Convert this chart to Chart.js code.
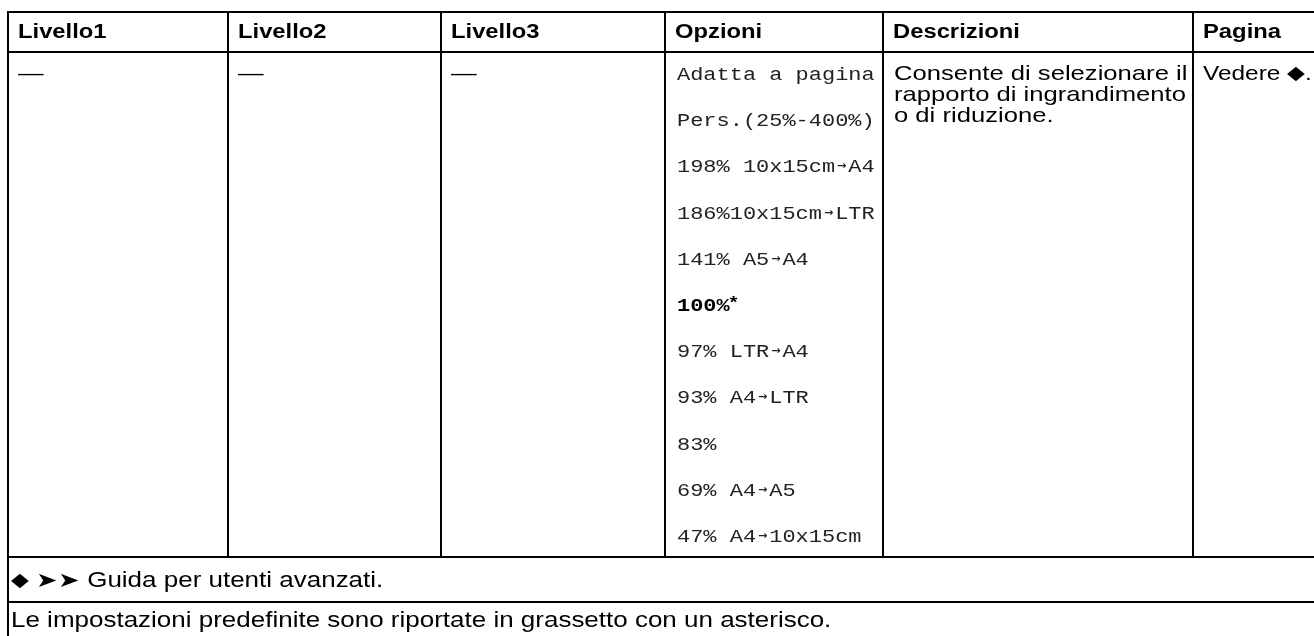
<!DOCTYPE html>
<html>
<head>
<meta charset="utf-8">
<script src="https://cdn.jsdelivr.net/npm/chart.js@4"></script>
<style>
  html, body { margin: 0; padding: 0; background: #fff; }
  canvas { display: block; }
</style>
</head>
<body>
<canvas id="table" width="1314" height="636"></canvas>
<script>
// Table content
const headers = ['Livello1', 'Livello2', 'Livello3', 'Opzioni', 'Descrizioni', 'Pagina'];
const livelli = ['—', '—', '—'];
const opzioni = [
    'Adatta a pagina',
    'Pers.(25%-400%)',
    '198% 10x15cm→A4',
    '186%10x15cm→LTR',
    '141% A5→A4',
    '100%',
    '97% LTR→A4',
    '93% A4→LTR',
    '83%',
    '69% A4→A5',
    '47% A4→10x15cm'
];
const predefinita = '100%';   // shown in bold with an asterisk
const descrizione = ['Consente di selezionare il', 'rapporto di ingrandimento', 'o di riduzione.'];
const pagina = 'Vedere ◆.';
const note = [
    '◆ ➤➤ Guida per utenti avanzati.',
    'Le impostazioni predefinite sono riportate in grassetto con un asterisco.'
];

// the picture is a bit wider than tall, so text gets stretched horizontally
const SX = 1.22;
const colX = [8, 228, 441, 665, 883, 1193];
const FONT_HEAD = 'bold 19.5px "Liberation Sans"';
const FONT_BODY = '21px "Liberation Sans"';
const FONT_NOTE = '21.3px "Liberation Sans"';
const FONT_MONO = '18px "Liberation Mono"';
const FONT_MONO_B = 'bold 18px "Liberation Mono"';
const FONT_ARROW = 'bold 11px "DejaVu Sans"';
const FONT_DIAMOND = '19px "DejaVu Sans"';

function drawText(ctx, s, x, y, font, color) {
    ctx.save();
    ctx.font = font;
    ctx.fillStyle = color || '#000';
    ctx.textBaseline = 'alphabetic';
    ctx.translate(x, y);
    ctx.scale(SX, 1);
    ctx.fillText(s, 0, 0);
    const w = ctx.measureText(s).width * SX;
    ctx.restore();
    return w;
}

// monospace text, the arrows are drawn smaller and centred in their cell
function drawMono(ctx, s, x, y, font, color) {
    ctx.save();
    ctx.font = font;
    const cw = ctx.measureText('M').width * SX;
    ctx.restore();
    const parts = s.split('→');
    let cx = x;
    parts.forEach((p, i) => {
        if (p) drawText(ctx, p, cx, y, font, color);
        cx += p.length * cw;
        if (i < parts.length - 1) {
            ctx.save();
            ctx.font = FONT_ARROW;
            ctx.fillStyle = color;
            ctx.textAlign = 'center';
            ctx.fillText('→', cx + cw / 2, y - 3);
            ctx.restore();
            cx += cw;
        }
    });
    return cx - x;
}

// body text where the diamond sign comes from another font
function drawWithDiamond(ctx, s, x, y, font) {
    const parts = s.split('◆');
    let cx = x;
    parts.forEach((p, i) => {
        if (p) cx += drawText(ctx, p, cx, y, font);
        if (i < parts.length - 1) {
            cx += drawText(ctx, '◆', cx, y - 1, FONT_DIAMOND);
        }
    });
}

function line(ctx, x1, y1, x2, y2) {
    ctx.beginPath();
    ctx.moveTo(x1, y1);
    ctx.lineTo(x2, y2);
    ctx.stroke();
}

const tablePlugin = {
    id: 'tablePlugin',
    beforeDraw(chart) {
        const ctx = chart.ctx;
        ctx.save();
        ctx.fillStyle = '#fff';
        ctx.fillRect(0, 0, chart.width, chart.height);
        ctx.restore();
    },
    afterDraw(chart) {
        const ctx = chart.ctx;
        const yScale = chart.scales.y;
        const W = chart.width;

        // grid
        ctx.save();
        ctx.strokeStyle = '#000';
        ctx.lineWidth = 2;
        line(ctx, colX[0], 12, W, 12);
        line(ctx, colX[0], 52, W, 52);
        line(ctx, colX[0], 557, W, 557);
        line(ctx, colX[0], 602, W, 602);
        line(ctx, colX[0], 11, colX[0], chart.height);
        for (let i = 1; i < colX.length; i++) {
            line(ctx, colX[i], 11, colX[i], 557);
        }
        ctx.restore();

        // header row
        headers.forEach((h, i) => drawText(ctx, h, colX[i] + 10, 38, FONT_HEAD));

        // level columns
        livelli.forEach((l, i) => drawText(ctx, l, colX[i] + 10, 80, FONT_BODY));

        // options, one per category row
        opzioni.forEach((o, i) => {
            const y = yScale.getPixelForValue(i);
            if (o === predefinita) {
                const w = drawMono(ctx, o, colX[3] + 12, y, FONT_MONO_B, '#000');
                drawText(ctx, '*', colX[3] + 12 + w, y - 3, 'bold 16px "Liberation Sans"');
            } else {
                drawMono(ctx, o, colX[3] + 12, y, FONT_MONO, '#222');
            }
        });

        // description
        descrizione.forEach((d, i) => drawText(ctx, d, colX[4] + 11, 80 + i * 21, FONT_BODY));

        // page reference
        drawWithDiamond(ctx, pagina, colX[5] + 10, 80, '20px "Liberation Sans"');

        // footnotes
        drawWithDiamond(ctx, note[0], colX[0] + 3, 587, FONT_NOTE);
        drawText(ctx, note[1], colX[0] + 3, 627, FONT_NOTE);
    }
};

new Chart(document.getElementById('table'), {
    type: 'bar',
    data: {
        labels: opzioni,
        datasets: []
    },
    options: {
        indexAxis: 'y',
        responsive: false,
        animation: false,
        devicePixelRatio: 1,
        layout: {
            padding: { top: 80, bottom: 94, left: 0, right: 0 }
        },
        scales: {
            x: { type: 'linear', display: false },
            y: { type: 'category', labels: opzioni, offset: false, display: false }
        },
        plugins: {
            legend: { display: false },
            tooltip: { enabled: false }
        }
    },
    plugins: [tablePlugin]
});
</script>
</body>
</html>
